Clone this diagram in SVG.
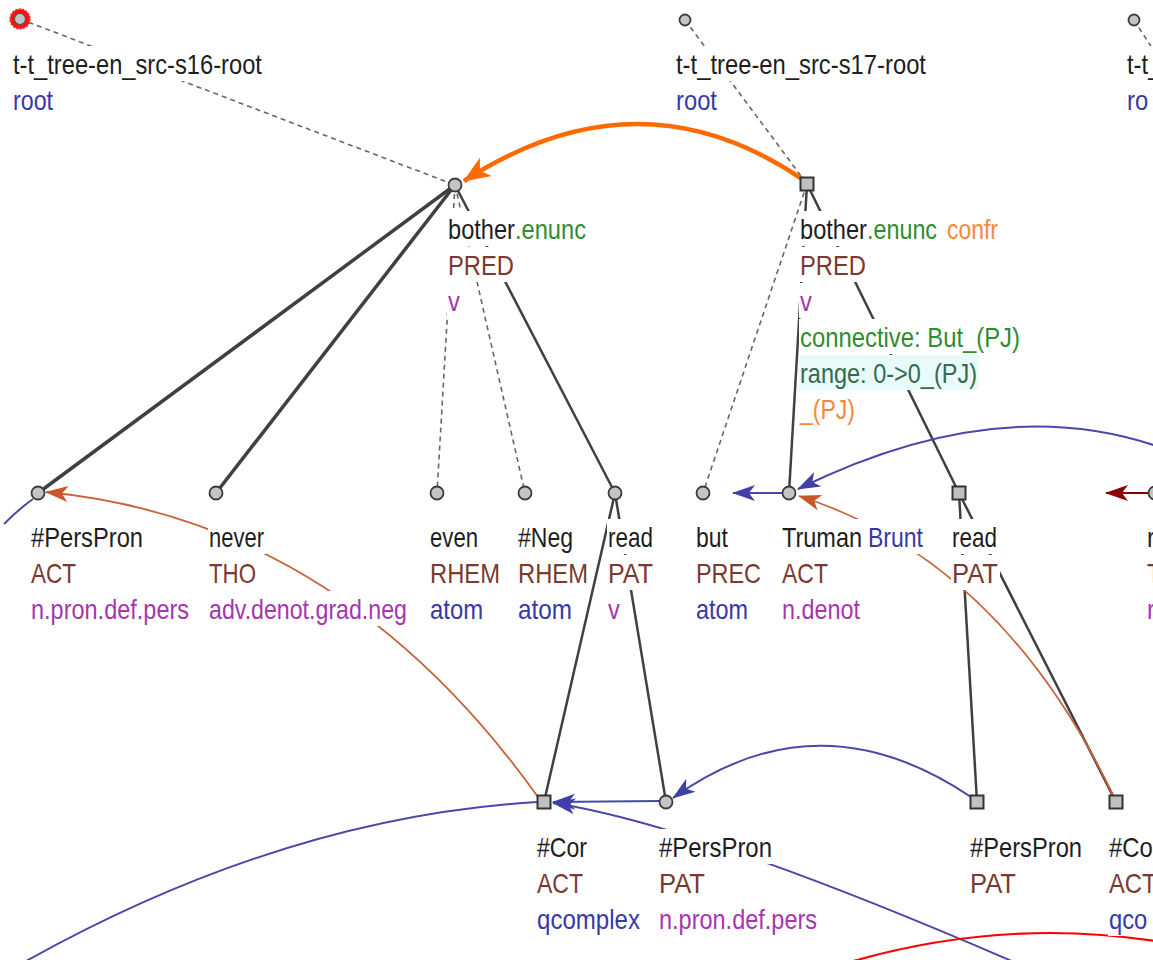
<svg xmlns="http://www.w3.org/2000/svg" width="1153" height="960" viewBox="0 0 1153 960">
<style>
text{font-family:"Liberation Sans",Arial,sans-serif;font-size:28px}
.k{fill:#1e1e1e}.f{fill:#7a3a30}.b{fill:#3838a8}.p{fill:#a636b0}.g{fill:#2f8c2f}.o{fill:#f7883a}.r{fill:#336b50}
.bg{fill:#fff}
.nc{fill:#c4c4c4;stroke:#3c3c3c;stroke-width:1.8}
.ns{fill:#c0c0c0;stroke:#333;stroke-width:2}
.dash{stroke:#666;stroke-width:1.6;stroke-dasharray:5 4;fill:none}
.e1{stroke:#404040;stroke-width:3.5;fill:none}
.e2{stroke:#404040;stroke-width:2.5;fill:none}
.bl{stroke:#4848a8;stroke-width:2;fill:none}
.br{stroke:#c8643c;stroke-width:1.8;fill:none}
</style>
<defs>
<marker id="mB" viewBox="-26 -10 28 20" refX="0" refY="0" markerWidth="28" markerHeight="20" markerUnits="userSpaceOnUse" orient="auto"><path d="M1,0 L-22,-8 L-16,0 L-22,8 Z" fill="#4040a8"/></marker>
<marker id="mBr" viewBox="-26 -10 28 20" refX="0" refY="0" markerWidth="28" markerHeight="20" markerUnits="userSpaceOnUse" orient="auto"><path d="M1,0 L-22,-8 L-16,0 L-22,8 Z" fill="#c8582a"/></marker>
<marker id="mR" viewBox="-26 -10 28 20" refX="0" refY="0" markerWidth="28" markerHeight="20" markerUnits="userSpaceOnUse" orient="auto"><path d="M1,0 L-22,-8 L-16,0 L-22,8 Z" fill="#8b0000"/></marker>
<marker id="mO" viewBox="-30 -12 32 24" refX="0" refY="0" markerWidth="32" markerHeight="24" markerUnits="userSpaceOnUse" orient="auto"><path d="M1,0 L-26,-11 L-19,0 L-26,11 Z" fill="#ff6a00"/></marker>
</defs>
<rect width="1153" height="960" fill="#fff"/>
<g id="connectors">
<path class="dash" d="M20,19 L455,185"/>
<path class="dash" d="M685,20 L807,184"/>
<path class="dash" d="M1134,20 L1165,68"/>
<path class="dash" d="M807,184 L703,493"/>
<path class="dash" d="M455,185 L437,493"/>
<path class="dash" d="M455,185 L525,493"/>
<path class="e1" d="M455,185 L38,493"/>
<path class="e1" d="M455,185 L216,493"/>
<path class="e2" d="M455,185 L615,493"/>
<path class="e2" d="M807,184 L789,493"/>
<path class="e2" d="M807,184 L959,493"/>
<path class="e2" d="M615,493 L544,802"/>
<path class="e2" d="M615,493 L666,802"/>
<path class="e2" d="M959,493 L977,802"/>
<path class="e2" d="M959,493 L1116,802"/>
<path d="M805,181 Q640,67 464,181" stroke="#ff6a00" stroke-width="4.5" fill="none" marker-end="url(#mO)"/>
<path class="bl" d="M1250,493 Q1056,362 798,489" marker-end="url(#mB)"/>
<path class="bl" d="M783,493 L733,493" marker-end="url(#mB)"/>
<path d="M1150,493 L1106,493" stroke="#8b0000" stroke-width="2" fill="none" marker-end="url(#mR)"/>
<path class="bl" d="M971,797 Q818,694 673,798" marker-end="url(#mB)"/>
<path class="bl" d="M659,801 L553,802" marker-end="url(#mB)"/>
<path class="bl" d="M1100,1000 Q717,828 553,803" marker-end="url(#mB)"/>
<path class="bl" d="M537,802 Q252,819 -40,1000"/>
<path class="bl" d="M33,499 Q20,508 4,524"/>
<path class="br" d="M538,797 Q340,520 46,492" marker-end="url(#mBr)"/>
<path class="br" d="M1113,795 Q1000,560 799,496" marker-end="url(#mBr)"/>
<path d="M850,962 Q1050,904 1250,962" stroke="#ff0000" stroke-width="2.2" fill="none"/>
</g>
<g id="n-root16">
<rect class="bg" x="12" y="46" width="252" height="35"/><rect class="bg" x="12" y="82" width="43" height="35"/>
<text class="k" transform="matrix(.85 0 0 1 13 74)" textLength="292.9" lengthAdjust="spacingAndGlyphs">t-t_tree-en_src-s16-root</text>
<text class="b" transform="matrix(.85 0 0 1 13 110)" textLength="47.1" lengthAdjust="spacingAndGlyphs">root</text>
<circle cx="20" cy="19" r="10" fill="#ff1010" stroke="#ff3030" stroke-width="1.5" stroke-dasharray="2 1.5"/>
<circle cx="20" cy="19" r="5.5" fill="#c4c4c4" stroke="#555" stroke-width="1.2"/>
</g>
<g id="n-root17">
<rect class="bg" x="675" y="46" width="253" height="35"/><rect class="bg" x="675" y="82" width="44" height="35"/>
<text class="k" transform="matrix(.85 0 0 1 676 74)" textLength="294.1" lengthAdjust="spacingAndGlyphs">t-t_tree-en_src-s17-root</text>
<text class="b" transform="matrix(.85 0 0 1 676 110)" textLength="48.2" lengthAdjust="spacingAndGlyphs">root</text>
<circle class="nc" cx="685" cy="20" r="5.5"/>
</g>
<g id="n-root18">
<rect class="bg" x="1126" y="46" width="30" height="35"/><rect class="bg" x="1126" y="82" width="30" height="35"/>
<text class="k" transform="matrix(.85 0 0 1 1127 74)">t-t_</text>
<text class="b" transform="matrix(.85 0 0 1 1127 110)">ro</text>
<circle class="nc" cx="1134" cy="20" r="5.5"/>
</g>
<g id="n-bother16">
<rect class="bg" x="447" y="211" width="141" height="35"/><rect class="bg" x="447" y="247" width="69" height="35"/><rect class="bg" x="447" y="283" width="12" height="35"/>
<text class="k" transform="matrix(.85 0 0 1 448 239)" textLength="78.8" lengthAdjust="spacingAndGlyphs">bother</text>
<text class="g" transform="matrix(.85 0 0 1 515 239)" textLength="83.5" lengthAdjust="spacingAndGlyphs">.enunc</text>
<text class="f" transform="matrix(.85 0 0 1 448 275)" textLength="77.6" lengthAdjust="spacingAndGlyphs">PRED</text>
<text class="p" transform="matrix(.85 0 0 1 448 311)">v</text>
<circle class="nc" cx="455" cy="185" r="6.5"/>
</g>
<g id="n-bother17">
<rect class="bg" x="799" y="211" width="200" height="35"/><rect class="bg" x="799" y="247" width="68" height="35"/><rect class="bg" x="799" y="283" width="12" height="35"/>
<rect class="bg" x="799" y="319" width="223" height="35"/><rect x="799" y="355" width="180" height="35" fill="#e8fafa"/><rect class="bg" x="799" y="391" width="58" height="35"/>
<text class="k" transform="matrix(.85 0 0 1 800 239)" textLength="78.8" lengthAdjust="spacingAndGlyphs">bother</text>
<text class="g" transform="matrix(.85 0 0 1 867 239)" textLength="82.4" lengthAdjust="spacingAndGlyphs">.enunc</text>
<text class="o" transform="matrix(.85 0 0 1 947 239)" textLength="60" lengthAdjust="spacingAndGlyphs">confr</text>
<text class="f" transform="matrix(.85 0 0 1 800 275)" textLength="77.6" lengthAdjust="spacingAndGlyphs">PRED</text>
<text class="p" transform="matrix(.85 0 0 1 800 311)">v</text>
<text class="g" transform="matrix(.85 0 0 1 800 347)" textLength="258.8" lengthAdjust="spacingAndGlyphs">connective: But_(PJ)</text>
<text class="r" transform="matrix(.85 0 0 1 800 383)" textLength="208.2" lengthAdjust="spacingAndGlyphs">range: 0-&gt;0_(PJ)</text>
<text class="o" transform="matrix(.85 0 0 1 800 419)" textLength="64.7" lengthAdjust="spacingAndGlyphs">_(PJ)</text>
<rect class="ns" x="800.5" y="177.5" width="13" height="13"/>
</g>
<g id="n-perspron16">
<rect class="bg" x="30" y="519" width="115" height="35"/><rect class="bg" x="30" y="555" width="48" height="35"/><rect class="bg" x="30" y="591" width="161" height="35"/>
<text class="k" transform="matrix(.85 0 0 1 31 547)" textLength="131.8" lengthAdjust="spacingAndGlyphs">#PersPron</text>
<text class="f" transform="matrix(.85 0 0 1 31 583)" textLength="52.9" lengthAdjust="spacingAndGlyphs">ACT</text>
<text class="p" transform="matrix(.85 0 0 1 31 619)" textLength="185.9" lengthAdjust="spacingAndGlyphs">n.pron.def.pers</text>
<circle class="nc" cx="38" cy="493" r="6.5"/>
</g>
<g id="n-never">
<rect class="bg" x="208" y="519" width="58" height="35"/><rect class="bg" x="208" y="555" width="50" height="35"/><rect class="bg" x="208" y="591" width="201" height="35"/>
<text class="k" transform="matrix(.85 0 0 1 209 547)" textLength="64.7" lengthAdjust="spacingAndGlyphs">never</text>
<text class="f" transform="matrix(.85 0 0 1 209 583)" textLength="55.3" lengthAdjust="spacingAndGlyphs">THO</text>
<text class="p" transform="matrix(.85 0 0 1 209 619)" textLength="232.9" lengthAdjust="spacingAndGlyphs">adv.denot.grad.neg</text>
<circle class="nc" cx="216" cy="493" r="6.5"/>
</g>
<g id="n-even">
<rect class="bg" x="429" y="519" width="51" height="35"/><rect class="bg" x="429" y="555" width="72" height="35"/><rect class="bg" x="429" y="591" width="56" height="35"/>
<text class="k" transform="matrix(.85 0 0 1 430 547)" textLength="56.5" lengthAdjust="spacingAndGlyphs">even</text>
<text class="f" transform="matrix(.85 0 0 1 430 583)" textLength="82.4" lengthAdjust="spacingAndGlyphs">RHEM</text>
<text class="b" transform="matrix(.85 0 0 1 430 619)" textLength="62.4" lengthAdjust="spacingAndGlyphs">atom</text>
<circle class="nc" cx="437" cy="493" r="6.5"/>
</g>
<g id="n-neg">
<rect class="bg" x="517" y="519" width="58" height="35"/><rect class="bg" x="517" y="555" width="72" height="35"/><rect class="bg" x="517" y="591" width="57" height="35"/>
<text class="k" transform="matrix(.85 0 0 1 518 547)" textLength="64.7" lengthAdjust="spacingAndGlyphs">#Neg</text>
<text class="f" transform="matrix(.85 0 0 1 518 583)" textLength="82.4" lengthAdjust="spacingAndGlyphs">RHEM</text>
<text class="b" transform="matrix(.85 0 0 1 518 619)" textLength="63.5" lengthAdjust="spacingAndGlyphs">atom</text>
<circle class="nc" cx="525" cy="493" r="6.5"/>
</g>
<g id="n-read16">
<rect class="bg" x="607" y="519" width="47" height="35"/><rect class="bg" x="607" y="555" width="47" height="35"/><rect class="bg" x="607" y="591" width="12" height="35"/>
<text class="k" transform="matrix(.85 0 0 1 608 547)" textLength="52.9" lengthAdjust="spacingAndGlyphs">read</text>
<text class="f" transform="matrix(.85 0 0 1 608 583)" textLength="52.9" lengthAdjust="spacingAndGlyphs">PAT</text>
<text class="p" transform="matrix(.85 0 0 1 608 619)">v</text>
<circle class="nc" cx="615" cy="493" r="6.5"/>
</g>
<g id="n-but">
<rect class="bg" x="695" y="519" width="35" height="35"/><rect class="bg" x="695" y="555" width="68" height="35"/><rect class="bg" x="695" y="591" width="55" height="35"/>
<text class="k" transform="matrix(.85 0 0 1 696 547)" textLength="37.6" lengthAdjust="spacingAndGlyphs">but</text>
<text class="f" transform="matrix(.85 0 0 1 696 583)" textLength="76.5" lengthAdjust="spacingAndGlyphs">PREC</text>
<text class="b" transform="matrix(.85 0 0 1 696 619)" textLength="61.2" lengthAdjust="spacingAndGlyphs">atom</text>
<circle class="nc" cx="703" cy="493" r="6.5"/>
</g>
<g id="n-truman">
<rect class="bg" x="781" y="519" width="144" height="35"/><rect class="bg" x="781" y="555" width="48" height="35"/><rect class="bg" x="781" y="591" width="80" height="35"/>
<text class="k" transform="matrix(.85 0 0 1 782 547)" textLength="94.1" lengthAdjust="spacingAndGlyphs">Truman</text>
<text class="b" transform="matrix(.85 0 0 1 868 547)" textLength="64.7" lengthAdjust="spacingAndGlyphs">Brunt</text>
<text class="f" transform="matrix(.85 0 0 1 782 583)" textLength="54.1" lengthAdjust="spacingAndGlyphs">ACT</text>
<text class="p" transform="matrix(.85 0 0 1 782 619)" textLength="91.8" lengthAdjust="spacingAndGlyphs">n.denot</text>
<circle class="nc" cx="789" cy="493" r="6.5"/>
</g>
<g id="n-read17">
<rect class="bg" x="951" y="519" width="47" height="35"/><rect class="bg" x="951" y="555" width="49" height="35"/>
<text class="k" transform="matrix(.85 0 0 1 952 547)" textLength="52.9" lengthAdjust="spacingAndGlyphs">read</text>
<text class="f" transform="matrix(.85 0 0 1 952 583)" textLength="54.1" lengthAdjust="spacingAndGlyphs">PAT</text>
<rect class="ns" x="952.5" y="486.5" width="13" height="13"/>
</g>
<g id="n-right">
<rect class="bg" x="1146" y="519" width="8" height="107"/>
<text class="k" transform="matrix(.85 0 0 1 1147 547)">r</text>
<text class="f" transform="matrix(.85 0 0 1 1147 583)">T</text>
<text class="p" transform="matrix(.85 0 0 1 1147 619)">r</text>
<circle class="nc" cx="1155" cy="493" r="6.5"/>
</g>
<g id="n-cor16">
<rect class="bg" x="536" y="829" width="53" height="35"/><rect class="bg" x="536" y="865" width="49" height="35"/><rect class="bg" x="536" y="901" width="106" height="35"/>
<text class="k" transform="matrix(.85 0 0 1 537 857)" textLength="58.8" lengthAdjust="spacingAndGlyphs">#Cor</text>
<text class="f" transform="matrix(.85 0 0 1 537 893)" textLength="54.1" lengthAdjust="spacingAndGlyphs">ACT</text>
<text class="b" transform="matrix(.85 0 0 1 537 929)" textLength="121.2" lengthAdjust="spacingAndGlyphs">qcomplex</text>
<rect class="ns" x="537.5" y="795.5" width="13" height="13"/>
</g>
<g id="n-perspron16b">
<rect class="bg" x="658" y="829" width="116" height="35"/><rect class="bg" x="658" y="865" width="49" height="35"/><rect class="bg" x="658" y="901" width="161" height="35"/>
<text class="k" transform="matrix(.85 0 0 1 659 857)" textLength="132.9" lengthAdjust="spacingAndGlyphs">#PersPron</text>
<text class="f" transform="matrix(.85 0 0 1 659 893)" textLength="54.1" lengthAdjust="spacingAndGlyphs">PAT</text>
<text class="p" transform="matrix(.85 0 0 1 659 929)" textLength="185.9" lengthAdjust="spacingAndGlyphs">n.pron.def.pers</text>
<circle class="nc" cx="666" cy="802" r="6.5"/>
</g>
<g id="n-perspron17">
<rect class="bg" x="969" y="829" width="115" height="35"/><rect class="bg" x="969" y="865" width="49" height="35"/>
<text class="k" transform="matrix(.85 0 0 1 970 857)" textLength="131.8" lengthAdjust="spacingAndGlyphs">#PersPron</text>
<text class="f" transform="matrix(.85 0 0 1 970 893)" textLength="54.1" lengthAdjust="spacingAndGlyphs">PAT</text>
<rect class="ns" x="970.5" y="795.5" width="13" height="13"/>
</g>
<g id="n-cor17">
<rect class="bg" x="1108" y="829" width="50" height="107"/>
<text class="k" transform="matrix(.85 0 0 1 1109 857)">#Co</text>
<text class="f" transform="matrix(.85 0 0 1 1109 893)">ACT</text>
<text class="b" transform="matrix(.85 0 0 1 1109 929)">qco</text>
<rect class="ns" x="1109.5" y="795.5" width="13" height="13"/>
</g>
</svg>
